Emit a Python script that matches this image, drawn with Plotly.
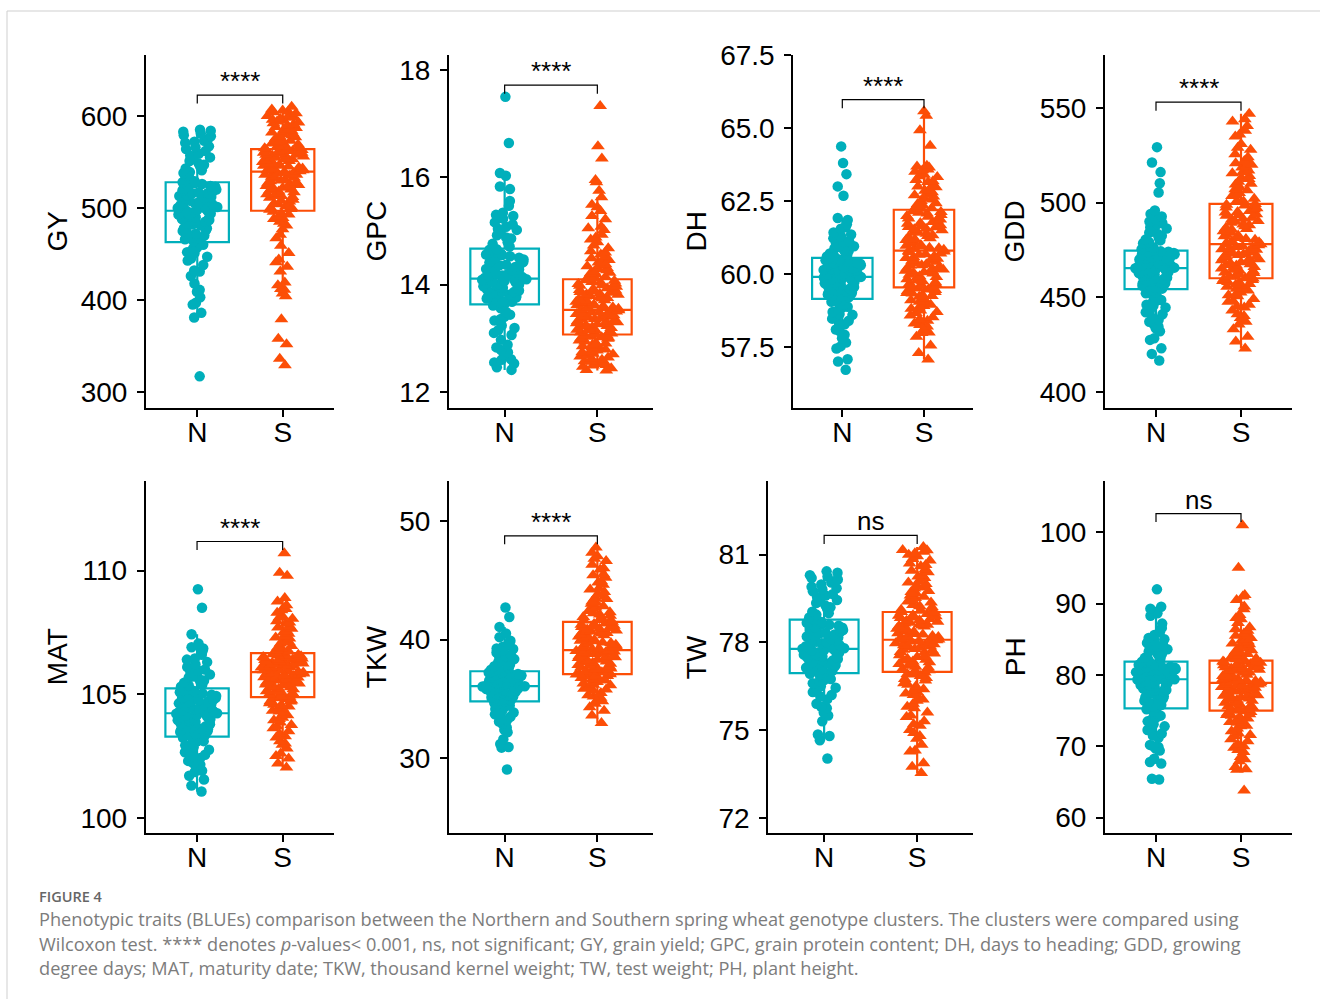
import plotly.graph_objects as go

# ---------------- data ----------------
TRAITS = ["GY", "GPC", "DH", "GDD", "MAT", "TKW", "TW", "PH"]
GROUPS = ["N", "S"]
SIG_LABELS = ["****", "****", "****", "****", "****", "****", "ns", "ns"]

GY_N = [317, 381, 386, 395, 397, 403, 409, 411, 418, 426, 431, 432, 438, 445, 447, 451, 456, 457, 460, 462,
        464, 467, 468, 472, 473, 476, 478, 478, 482, 483, 485, 487, 488, 490, 493, 493, 495, 496, 497, 497,
        498, 500, 501, 503, 505, 505, 508, 510, 511, 513, 516, 516, 518, 519, 521, 524, 524, 526, 527, 528,
        531, 535, 538, 539, 543, 547, 548, 553, 555, 557, 562, 564, 567, 571, 572, 575, 579, 581, 583, 585,
        470, 475, 481, 486, 491, 494, 499, 502, 504, 507, 509, 512, 514, 517, 520, 523, 529, 533, 541, 545,
        551, 559, 566, 573, 578, 584, 452, 443, 466, 489]
GY_S = [329, 336, 352, 358, 379, 404, 407, 411, 412, 416, 419, 431, 436, 441, 444, 451, 459, 467, 471, 477,
        481, 483, 488, 489, 493, 494, 496, 498, 500, 501, 504, 505, 508, 509, 512, 513, 516, 517, 519, 521,
        522, 524, 526, 527, 529, 530, 531, 533, 534, 535, 536, 537, 538, 539, 540, 541, 543, 543, 545, 546,
        547, 548, 550, 550, 552, 553, 554, 555, 557, 557, 558, 559, 560, 561, 562, 563, 564, 565, 567, 568,
        570, 571, 573, 575, 576, 577, 579, 580, 582, 584, 585, 586, 588, 589, 591, 592, 594, 596, 597, 599,
        600, 603, 605, 607, 610,
        502, 507, 511, 515, 518, 523, 528, 532, 536, 538, 541, 542, 544, 546, 549, 551, 553, 556, 558, 560,
        563, 566, 569, 572, 574, 578, 581, 583, 587, 590, 593, 595, 598, 601, 604, 606, 485, 491, 499, 514,
        520, 525, 547, 555, 562]

GPC_N = [12.41, 12.46, 12.53, 12.6, 12.61, 12.69, 12.74, 12.83, 12.88, 12.97, 13.06, 13.1, 13.19, 13.24, 13.33,
         13.36, 13.44, 13.49, 13.56, 13.61, 13.64, 13.67, 13.69, 13.73, 13.76, 13.77, 13.81, 13.84, 13.86, 13.87,
         13.91, 13.94, 13.96, 13.99, 14.01, 14.03, 14.04, 14.07, 14.09, 14.1, 14.13, 14.14, 14.17, 14.21, 14.22,
         14.27, 14.29, 14.32, 14.36, 14.37, 14.41, 14.42, 14.47, 14.49, 14.53, 14.56, 14.57, 14.61, 14.64, 14.66,
         14.71, 14.79, 14.86, 14.88, 14.97, 15.02, 15.04, 15.12, 15.16, 15.23, 15.28, 15.34, 15.47, 15.56, 15.78,
         15.83, 16.03, 16.08, 16.64, 17.5,
         13.68, 13.74, 13.79, 13.83, 13.89, 13.92, 13.97, 14.0, 14.06, 14.08, 14.12, 14.16, 14.19, 14.24, 14.28,
         14.33, 14.39, 14.44, 14.5, 14.55, 14.6, 14.65, 14.76, 14.92, 15.08, 15.3, 13.4, 13.15, 12.78, 12.55]
GPC_S = [12.4, 12.41, 12.44, 12.49, 12.5, 12.53, 12.56, 12.57, 12.62, 12.64, 12.66, 12.7, 12.71, 12.74, 12.77,
         12.79, 12.81, 12.85, 12.87, 12.9, 12.91, 12.94, 12.99, 13.01, 13.02, 13.05, 13.06, 13.08, 13.09, 13.12,
         13.14, 13.15, 13.16, 13.19, 13.21, 13.23, 13.24, 13.26, 13.28, 13.3, 13.31, 13.33, 13.35, 13.36, 13.38,
         13.4, 13.41, 13.43, 13.45, 13.46, 13.48, 13.49, 13.51, 13.52, 13.54, 13.57, 13.58, 13.61, 13.62, 13.65,
         13.67, 13.68, 13.71, 13.73, 13.75, 13.77, 13.79, 13.81, 13.83, 13.86, 13.87, 13.89, 13.92, 13.93, 13.96,
         13.99, 14.01, 14.04, 14.05, 14.08, 14.1, 14.12, 14.16, 14.19, 14.21, 14.24, 14.27, 14.31, 14.34, 14.38,
         14.41, 14.46, 14.49, 14.56, 14.62, 14.68, 14.79, 14.84, 14.93, 15.02, 15.08, 15.22, 15.37, 15.49, 15.63,
         15.75, 15.91, 15.95, 16.35, 16.58, 17.33,
         12.47, 12.6, 12.68, 12.83, 12.96, 13.03, 13.11, 13.18, 13.22, 13.27, 13.32, 13.37, 13.42, 13.47, 13.5,
         13.55, 13.6, 13.63, 13.66, 13.7, 13.74, 13.78, 13.82, 13.85, 13.9, 13.95, 13.98, 14.02, 14.07, 14.14,
         14.22, 14.29, 14.36, 14.44, 14.52, 14.6, 14.73, 14.88, 15.05, 15.28, 15.44, 12.52, 12.75, 12.88, 13.0]

DH_N = [56.72, 57.0, 57.08, 57.45, 57.52, 57.8, 57.92, 58.05, 58.1, 58.28, 58.4, 58.47, 58.55, 58.63, 58.7,
        58.78, 58.88, 58.95, 59.02, 59.1, 59.16, 59.2, 59.25, 59.3, 59.33, 59.38, 59.43, 59.46, 59.5, 59.55,
        59.58, 59.62, 59.66, 59.7, 59.73, 59.77, 59.8, 59.84, 59.87, 59.9, 59.92, 59.96, 59.99, 60.02, 60.05,
        60.08, 60.1, 60.14, 60.17, 60.2, 60.23, 60.27, 60.3, 60.33, 60.37, 60.4, 60.44, 60.47, 60.5, 60.54,
        60.58, 60.63, 60.7, 60.76, 60.82, 60.88, 60.95, 61.05, 61.12, 61.22, 61.3, 61.42, 61.55, 61.7, 61.85,
        61.92, 62.68, 63.0, 63.42, 63.8, 64.37,
        59.22, 59.35, 59.41, 59.52, 59.6, 59.68, 59.75, 59.82, 59.88, 59.95, 60.0, 60.06, 60.12, 60.19, 60.25,
        60.35, 60.42, 60.52, 60.6, 60.67, 60.8, 60.92, 61.1, 61.35, 58.85, 58.6, 58.3, 57.65, 59.05, 61.6]
DH_S = [57.07, 57.29, 57.55, 57.85, 57.98, 58.1, 58.2, 58.3, 58.4, 58.52, 58.58, 58.66, 58.75, 58.81, 58.9,
        58.95, 59.02, 59.1, 59.15, 59.22, 59.28, 59.33, 59.38, 59.42, 59.47, 59.5, 59.53, 59.57, 59.62, 59.66,
        59.72, 59.78, 59.82, 59.88, 59.92, 59.97, 60.02, 60.06, 60.11, 60.15, 60.2, 60.24, 60.29, 60.33, 60.38,
        60.42, 60.48, 60.52, 60.57, 60.61, 60.66, 60.7, 60.75, 60.79, 60.83, 60.88, 60.94, 60.99, 61.05, 61.1,
        61.16, 61.22, 61.27, 61.33, 61.38, 61.44, 61.5, 61.55, 61.61, 61.67, 61.72, 61.78, 61.84, 61.9, 61.96,
        62.02, 62.07, 62.12, 62.18, 62.23, 62.3, 62.36, 62.42, 62.5, 62.58, 62.65, 62.72, 62.8, 62.88, 62.97,
        63.05, 63.15, 63.22, 63.32, 63.4, 63.5, 63.58, 63.65, 63.71, 64.39, 64.92, 65.42, 65.57,
        58.45, 58.7, 59.05, 59.25, 59.45, 59.6, 59.75, 59.9, 60.04, 60.18, 60.3, 60.45, 60.55, 60.68, 60.77,
        60.86, 60.97, 61.08, 61.19, 61.3, 61.41, 61.53, 61.64, 61.75, 61.87, 61.99, 62.1, 62.25, 62.4, 62.55,
        62.7, 62.85, 63.0, 63.18, 63.35, 63.55, 63.68, 58.0, 58.25, 58.85, 59.35, 60.1, 60.9, 61.6, 62.15]

GDD_N = [416.5, 420, 423, 427.4, 428.3, 432, 434.5, 436, 437, 439, 441, 443, 444.5, 446, 447, 448.5, 450, 451,
         452.5, 453.5, 454.5, 455.3, 456, 457.2, 458, 458.8, 459.5, 460.3, 461, 461.8, 462.4, 463, 463.6, 464.1,
         464.5, 464.9, 465.1, 465.3, 465.6, 466.2, 466.8, 467.5, 468, 468.7, 469.2, 469.9, 470.4, 471, 471.6,
         472.2, 472.7, 473.3, 473.8, 474.2, 474.6, 475.3, 476.2, 477, 478, 479, 480, 481.5, 482.5, 484, 485.5,
         487, 488.5, 490, 491.5, 492.6, 494, 495.8, 505.3, 510.2, 516.1, 521.2, 529.3,
         455, 456.8, 458.3, 460, 461.4, 462.7, 464.3, 465.8, 466.5, 467.9, 468.4, 469.6, 470.7, 471.9, 473,
         474, 476.7, 478.5, 480.5, 483.5, 486.3, 489.2, 448, 445.5, 442, 438, 433.5, 452, 457.6, 463.3]
GDD_S = [422.8, 426.5, 429, 433, 435.5, 437, 439, 441, 443, 444.5, 446, 447.5, 449, 450.5, 451.5, 452.5, 453.5,
         454.5, 455.5, 456.5, 457, 457.8, 458.5, 459, 459.5, 459.8, 460, 460.8, 461.5, 462.3, 463, 463.8, 464.5,
         465.2, 466, 466.7, 467.4, 468, 468.8, 469.5, 470.2, 471, 471.6, 472.3, 473, 473.6, 474.3, 475, 475.6,
         476.2, 476.8, 477.4, 478, 478.8, 479.6, 480.4, 481.3, 482.2, 483, 484, 484.8, 485.7, 486.6, 487.5, 488.4,
         489.3, 490.2, 491, 492, 493, 493.8, 494.7, 495.6, 496.5, 497.4, 498.4, 499.3, 500.5, 502, 503.5, 505,
         506.5, 508, 509.5, 511, 512.5, 514, 515.5, 517, 518.5, 520, 520.8, 522, 524, 527.9, 531, 534.9, 538,
         542.8, 546.9,
         440, 445, 448, 451, 454, 456, 458, 461, 462.7, 464, 465.7, 467, 468.4, 470, 471.3, 472.7, 474, 475.3,
         476.5, 477.8, 479, 480.8, 482.6, 484.4, 486, 488, 489.8, 491.5, 493.4, 495, 497, 498.8, 501, 504, 507,
         510, 513, 516, 519, 521.5, 525.5, 529, 536, 540.5, 544]

MAT_N = [101.06, 101.3, 101.55, 101.7, 101.85, 102.0, 102.15, 102.3, 102.42, 102.55, 102.65, 102.75, 102.85,
         102.93, 103.0, 103.08, 103.14, 103.2, 103.24, 103.27, 103.32, 103.38, 103.44, 103.5, 103.55, 103.6,
         103.65, 103.7, 103.75, 103.8, 103.85, 103.9, 103.95, 104.0, 104.05, 104.1, 104.14, 104.18, 104.21,
         104.23, 104.27, 104.32, 104.37, 104.42, 104.48, 104.53, 104.58, 104.63, 104.68, 104.73, 104.78, 104.83,
         104.88, 104.93, 104.98, 105.03, 105.08, 105.13, 105.18, 105.23, 105.3, 105.38, 105.46, 105.55, 105.63,
         105.72, 105.8, 105.9, 106.0, 106.1, 106.2, 106.3, 106.45, 106.6, 106.75, 106.9, 107.05, 107.43, 108.5,
         109.25,
         103.35, 103.47, 103.58, 103.68, 103.78, 103.88, 103.98, 104.08, 104.16, 104.25, 104.35, 104.45, 104.55,
         104.65, 104.75, 104.86, 104.96, 105.06, 105.16, 105.35, 105.5, 105.68, 105.95, 106.4, 102.7, 102.5,
         102.2, 101.9, 103.1, 106.85]
MAT_S = [102.03, 102.2, 102.4, 102.6, 102.8, 102.95, 103.1, 103.25, 103.4, 103.5, 103.62, 103.75, 103.85,
         103.95, 104.05, 104.15, 104.25, 104.33, 104.41, 104.5, 104.57, 104.63, 104.7, 104.75, 104.8, 104.84,
         104.87, 104.92, 104.97, 105.02, 105.07, 105.12, 105.17, 105.22, 105.26, 105.3, 105.35, 105.39, 105.43,
         105.47, 105.51, 105.55, 105.59, 105.62, 105.66, 105.69, 105.72, 105.75, 105.78, 105.81, 105.84, 105.86,
         105.88, 105.91, 105.94, 105.97, 106.0, 106.03, 106.06, 106.09, 106.12, 106.15, 106.18, 106.21, 106.24,
         106.27, 106.3, 106.33, 106.36, 106.39, 106.42, 106.45, 106.48, 106.51, 106.54, 106.57, 106.6, 106.64,
         106.7, 106.78, 106.86, 106.95, 107.05, 107.15, 107.25, 107.35, 107.45, 107.55, 107.65, 107.75, 107.85,
         107.95, 108.05, 108.15, 108.3, 108.45, 108.6, 108.75, 108.89, 109.79, 109.92, 110.71,
         102.5, 103.0, 103.3, 103.7, 104.0, 104.3, 104.55, 104.72, 104.9, 105.0, 105.1, 105.2, 105.28, 105.37,
         105.45, 105.53, 105.6, 105.68, 105.76, 105.83, 105.9, 105.96, 106.02, 106.08, 106.14, 106.2, 106.26,
         106.32, 106.38, 106.44, 106.5, 106.56, 106.62, 106.74, 106.9, 107.1, 107.3, 107.5, 107.7, 107.9,
         108.1, 108.4, 104.45, 105.65, 106.1]

TKW_N = [29.06, 30.9, 30.95, 31.2, 31.6, 32.2, 32.6, 32.9, 33.1, 33.3, 33.5, 33.7, 33.85, 34.0, 34.15, 34.3,
         34.45, 34.55, 34.65, 34.75, 34.85, 34.95, 35.05, 35.15, 35.25, 35.32, 35.4, 35.48, 35.55, 35.62, 35.7,
         35.77, 35.83, 35.88, 35.93, 35.97, 36.0, 36.03, 36.05, 36.07, 36.12, 36.18, 36.25, 36.32, 36.4, 36.47,
         36.55, 36.62, 36.7, 36.77, 36.85, 36.92, 37.0, 37.06, 37.12, 37.18, 37.22, 37.26, 37.3, 37.33, 37.45,
         37.6, 37.75, 37.9, 38.05, 38.2, 38.35, 38.5, 38.7, 38.9, 39.1, 39.25, 39.4, 39.55, 39.8, 40.2, 40.5,
         41.06, 41.9, 42.69,
         34.9, 35.1, 35.3, 35.45, 35.6, 35.75, 35.86, 35.95, 36.02, 36.1, 36.2, 36.3, 36.42, 36.52, 36.65, 36.8,
         36.95, 37.1, 37.25, 37.5, 37.8, 38.1, 38.6, 39.2, 34.6, 34.2, 33.8, 33.2, 32.4, 39.9]
TKW_S = [32.98, 33.6, 34.0, 34.3, 34.6, 34.9, 35.1, 35.3, 35.5, 35.7, 35.85, 36.0, 36.15, 36.3, 36.42, 36.55,
         36.65, 36.75, 36.85, 36.92, 36.98, 37.02, 37.05, 37.07, 37.15, 37.25, 37.35, 37.45, 37.55, 37.65, 37.75,
         37.85, 37.95, 38.05, 38.15, 38.25, 38.35, 38.45, 38.55, 38.62, 38.7, 38.78, 38.85, 38.92, 38.98, 39.03,
         39.08, 39.15, 39.25, 39.35, 39.45, 39.55, 39.65, 39.75, 39.85, 39.95, 40.05, 40.15, 40.25, 40.35, 40.45,
         40.55, 40.65, 40.75, 40.85, 40.95, 41.05, 41.15, 41.25, 41.35, 41.45, 41.6, 41.8, 42.0, 42.2, 42.4,
         42.6, 42.8, 43.0, 43.2, 43.4, 43.6, 43.8, 44.0, 44.3, 44.6, 44.9, 45.2, 45.5, 45.9, 46.3, 46.6, 47.0,
         47.3, 47.74,
         35.2, 35.8, 36.2, 36.6, 36.9, 37.1, 37.3, 37.5, 37.7, 37.9, 38.1, 38.3, 38.5, 38.66, 38.82, 38.96, 39.1,
         39.3, 39.5, 39.7, 39.9, 40.1, 40.3, 40.5, 40.7, 40.9, 41.1, 41.3, 41.5, 41.9, 42.3, 42.7, 43.1, 43.5,
         44.2, 44.8, 45.4, 46.0, 46.8, 34.8, 36.4, 37.8, 38.9, 40.6, 42.1]

TW_N = [74.03, 74.65, 74.8, 74.85, 75.3, 75.5, 75.6, 75.75, 75.9, 76.05, 76.2, 76.3, 76.4, 76.5, 76.6, 76.68,
        76.75, 76.82, 76.88, 76.93, 76.98, 77.03, 77.08, 77.13, 77.18, 77.23, 77.28, 77.33, 77.38, 77.43, 77.48,
        77.52, 77.56, 77.6, 77.64, 77.68, 77.71, 77.74, 77.76, 77.78, 77.82, 77.87, 77.92, 77.97, 78.02, 78.07,
        78.12, 78.17, 78.22, 78.27, 78.32, 78.37, 78.42, 78.47, 78.52, 78.57, 78.62, 78.67, 78.72, 78.77, 78.85,
        78.95, 79.05, 79.15, 79.25, 79.35, 79.45, 79.55, 79.65, 79.75, 79.82, 79.9, 79.98, 80.05, 80.1, 80.15,
        80.2, 80.3, 80.38, 80.43,
        77.0, 77.1, 77.2, 77.3, 77.4, 77.5, 77.58, 77.66, 77.73, 77.8, 77.9, 78.0, 78.1, 78.2, 78.3, 78.4, 78.5,
        78.6, 78.7, 78.8, 79.0, 79.2, 79.4, 79.6, 79.85, 80.25, 76.45, 76.15, 75.8, 76.7]
TW_S = [73.53, 73.75, 73.87, 74.27, 74.3, 74.5, 74.7, 74.9, 75.0, 75.15, 75.3, 75.45, 75.6, 75.75, 75.9, 76.0,
        76.1, 76.2, 76.3, 76.4, 76.5, 76.6, 76.7, 76.78, 76.85, 76.92, 76.97, 77.02, 77.08, 77.14, 77.2, 77.26,
        77.32, 77.38, 77.44, 77.5, 77.56, 77.62, 77.67, 77.72, 77.77, 77.82, 77.86, 77.9, 77.94, 77.97, 78.0,
        78.03, 78.05, 78.07, 78.09, 78.13, 78.18, 78.22, 78.27, 78.31, 78.36, 78.4, 78.45, 78.49, 78.54, 78.58,
        78.62, 78.67, 78.71, 78.76, 78.8, 78.85, 78.89, 78.93, 78.97, 79.01, 79.04, 79.12, 79.2, 79.28, 79.36,
        79.44, 79.52, 79.6, 79.68, 79.76, 79.84, 79.92, 80.0, 80.1, 80.2, 80.3, 80.4, 80.5, 80.6, 80.7, 80.8,
        80.95, 81.05, 81.1, 81.15, 81.16, 81.26,
        74.8, 75.5, 75.8, 76.05, 76.35, 76.55, 76.75, 76.9, 77.05, 77.17, 77.29, 77.41, 77.53, 77.65, 77.75,
        77.84, 77.92, 78.01, 78.1, 78.2, 78.29, 78.38, 78.47, 78.56, 78.65, 78.74, 78.83, 78.91, 78.99, 79.08,
        79.24, 79.4, 79.56, 79.72, 79.88, 80.05, 80.25, 80.45, 80.65, 80.85, 81.0, 75.2, 76.25, 77.35, 78.6]

PH_N = [65.35, 65.45, 67.6, 67.8, 68.27, 69.4, 69.7, 70.0, 70.2, 71.5, 71.8, 72.3, 72.8, 73.1, 73.5, 73.9,
        74.3, 74.6, 74.9, 75.2, 75.5, 75.8, 76.1, 76.4, 76.7, 77.0, 77.3, 77.5, 77.7, 77.9, 78.1, 78.3, 78.5,
        78.7, 78.85, 79.0, 79.1, 79.2, 79.3, 79.4, 79.55, 79.7, 79.85, 80.0, 80.1, 80.2, 80.3, 80.4, 80.5, 80.6,
        80.7, 80.8, 80.9, 81.0, 81.15, 81.3, 81.45, 81.6, 81.75, 81.87, 82.1, 82.4, 82.7, 83.0, 83.3, 83.6, 83.9,
        84.2, 84.5, 84.8, 85.2, 85.6, 86.0, 86.6, 87.2, 88.3, 88.65, 89.3, 89.57, 92.0,
        75.6, 76.2, 76.9, 77.4, 77.8, 78.2, 78.6, 78.9, 79.15, 79.35, 79.6, 79.8, 80.05, 80.25, 80.45, 80.65,
        80.85, 81.05, 81.25, 81.5, 81.8, 82.3, 82.9, 83.5, 84.0, 85.0, 74.0, 72.6, 71.2, 69.9]
PH_S = [63.8, 66.7, 66.8, 67.1, 67.9, 68.5, 69.2, 69.8, 70.3, 70.7, 71.0, 71.4, 71.8, 72.1, 72.5, 72.8, 73.1,
        73.4, 73.6, 73.9, 74.1, 74.3, 74.5, 74.65, 74.8, 74.9, 74.97, 75.1, 75.3, 75.5, 75.7, 75.9, 76.1, 76.3,
        76.5, 76.7, 76.85, 77.0, 77.15, 77.3, 77.45, 77.6, 77.75, 77.9, 78.0, 78.1, 78.2, 78.3, 78.4, 78.5, 78.6,
        78.7, 78.8, 79.0, 79.1, 79.25, 79.4, 79.55, 79.7, 79.85, 80.0, 80.15, 80.3, 80.45, 80.6, 80.75, 80.9,
        81.05, 81.2, 81.35, 81.5, 81.6, 81.7, 81.8, 81.9, 81.95, 82.0, 82.2, 82.45, 82.7, 82.95, 83.2, 83.45,
        83.7, 84.0, 84.3, 84.6, 84.9, 85.2, 85.5, 85.8, 86.2, 86.7, 87.3, 88.0, 88.4, 89.6, 90.5, 91.0, 91.2,
        95.04, 101.0,
        70.0, 71.6, 72.9, 73.7, 74.4, 75.2, 75.6, 76.0, 76.4, 76.8, 77.1, 77.4, 77.7, 78.05, 78.35, 78.65, 78.9,
        79.15, 79.45, 79.75, 80.05, 80.35, 80.65, 80.95, 81.25, 81.55, 81.85, 82.3, 82.8, 83.3, 83.8, 84.4, 85.0,
        85.6, 86.4, 87.8, 89.2, 68.2, 69.5, 73.3, 76.6, 79.3, 81.1, 83.0, 84.7]

N_VALUES = [GY_N, GPC_N, DH_N, GDD_N, MAT_N, TKW_N, TW_N, PH_N]
S_VALUES = [GY_S, GPC_S, DH_S, GDD_S, MAT_S, TKW_S, TW_S, PH_S]

# box statistics as drawn in the picture (whisker ends, quartiles, median)
N_LOWER = [381, 12.41, 57.45, 427.4, 101.06, 31.2, 74.65, 67.6]
N_Q1 = [463, 13.63, 59.15, 454.2, 103.28, 34.8, 76.95, 75.33]
N_MEDIAN = [497, 14.11, 59.9, 465.3, 104.23, 36.07, 77.78, 79.4]
N_Q3 = [528, 14.67, 60.55, 474.6, 105.24, 37.33, 78.78, 81.87]
N_UPPER = [585, 16.08, 61.92, 495.8, 107.43, 41.06, 80.43, 89.57]

S_LOWER = [404, 12.4, 57.07, 422.8, 102.03, 32.98, 73.53, 66.7]
S_Q1 = [497, 13.07, 59.54, 460, 104.88, 37.08, 76.99, 75.0]
S_MEDIAN = [539.5, 13.53, 60.8, 478, 105.89, 39.1, 78.09, 78.9]
S_Q3 = [564, 14.10, 62.2, 499.3, 106.66, 41.48, 79.04, 82.0]
S_UPPER = [610, 15.63, 65.57, 546.9, 108.89, 47.74, 81.26, 91.2]

Y_TICKS = [[300, 400, 500, 600], [12, 14, 16, 18], [57.5, 60.0, 62.5, 65.0, 67.5], [400, 450, 500, 550],
           [100, 105, 110], [30, 40, 50], [72, 75, 78, 81], [60, 70, 80, 90, 100]]
Y_TICKTEXT = [["300", "400", "500", "600"], ["12", "14", "16", "18"],
              ["57.5", "60.0", "62.5", "65.0", "67.5"], ["400", "450", "500", "550"],
              ["100", "105", "110"], ["30", "40", "50"], ["72", "75", "78", "81"],
              ["60", "70", "80", "90", "100"]]

CAPTION_TITLE = "FIGURE 4"
CAPTION_LINES = [
    "Phenotypic traits (BLUEs) comparison between the Northern and Southern spring wheat genotype clusters. The clusters were compared using",
    "Wilcoxon test. **** denotes <i>p</i>-values< 0.001, ns, not significant; GY, grain yield; GPC, grain protein content; DH, days to heading; GDD, growing",
    "degree days; MAT, maturity date; TKW, thousand kernel weight; TW, test weight; PH, plant height.",
]

# ---------------- layout (pixels) ----------------
W, H = 1320, 999
Y_RANGES = [[282.6, 666.3], [11.70, 18.28], [55.41, 67.5], [391.4, 578.0],
            [99.37, 113.63], [23.69, 53.34], [71.47, 83.52], [57.81, 107.19]]
PANEL_LEFT = [146, 449, 793.3, 1105, 145.7, 449, 768.3, 1105]
PANEL_RIGHT = [334, 653, 973, 1292, 334, 653, 973, 1292]
ROW_TOP = [55, 481]
ROW_BOTTOM = [408, 833.3]
TITLE_X = [57, 376, 696, 1014, 57, 376, 696, 1015]
X_RANGE = [0.4, 2.6]
COLORS = ["#00AFBB", "#FC4E07"]
SYMBOLS = ["circle", "triangle-up"]
SIZES = [10.5, 12]
FONT = "Liberation Sans, Arial, Helvetica, sans-serif"
CAPFONT = "Open Sans, sans-serif"


def px(x):
    return x / W


def py(y):
    return 1 - y / H


fig = go.Figure()
layout = {}
shapes = []
annotations = []

for i, trait in enumerate(TRAITS):
    r = i // 4
    k = i + 1
    xn = "x" if k == 1 else f"x{k}"
    yn = "y" if k == 1 else f"y{k}"
    xkey = "xaxis" if k == 1 else f"xaxis{k}"
    ykey = "yaxis" if k == 1 else f"yaxis{k}"

    stats = [
        (N_LOWER[i], N_Q1[i], N_MEDIAN[i], N_Q3[i], N_UPPER[i]),
        (S_LOWER[i], S_Q1[i], S_MEDIAN[i], S_Q3[i], S_UPPER[i]),
    ]
    values = [N_VALUES[i], S_VALUES[i]]

    for g in range(2):
        lo, q1, med, q3, hi = stats[g]
        fig.add_trace(go.Box(
            x=[g + 1], q1=[q1], median=[med], q3=[q3], lowerfence=[lo], upperfence=[hi],
            orientation="v", width=0.74, whiskerwidth=0, boxpoints=False,
            fillcolor="white", line=dict(color=COLORS[g], width=2.2),
            xaxis=xn, yaxis=yn, showlegend=False, hoverinfo="skip",
        ))
    for g in range(2):
        fig.add_trace(go.Box(
            y=values[g], x0=g + 1, orientation="v", width=0.5,
            boxpoints="all", jitter=1, pointpos=0, whiskerwidth=0,
            fillcolor="rgba(0,0,0,0)", line=dict(color="rgba(0,0,0,0)", width=0),
            marker=dict(symbol=SYMBOLS[g], size=SIZES[g], color=COLORS[g], line=dict(width=0)),
            xaxis=xn, yaxis=yn, showlegend=False, hoveron="points",
        ))

    layout[xkey] = dict(
        domain=[px(PANEL_LEFT[i]), px(PANEL_RIGHT[i])], anchor=yn, type="linear",
        range=X_RANGE, tickvals=[1, 2], ticktext=GROUPS, automargin=False,
        showline=True, linecolor="black", linewidth=2, mirror=False,
        ticks="outside", ticklen=7, tickwidth=2, tickcolor="black",
        showgrid=False, zeroline=False, ticklabelstandoff=-9,
        tickfont=dict(family=FONT, size=28, color="black"), fixedrange=True,
    )
    layout[ykey] = dict(
        domain=[py(ROW_BOTTOM[r]), py(ROW_TOP[r])], anchor=xn, automargin=False,
        range=Y_RANGES[i], tickvals=Y_TICKS[i], ticktext=Y_TICKTEXT[i],
        showline=True, linecolor="black", linewidth=2,
        ticks="outside", ticklen=7, tickwidth=2, tickcolor="black",
        showgrid=False, zeroline=False, ticklabelstandoff=4,
        tickfont=dict(family=FONT, size=28, color="black"), fixedrange=True,
    )

    # significance bracket, placed above the highest point
    span = Y_RANGES[i][1] - Y_RANGES[i][0]
    top = max(max(values[0]), max(values[1])) + 0.033 * span
    tip = top - 0.024 * span
    shapes.append(dict(
        type="path", xref=xn, yref=yn,
        path=f"M 1,{tip} L 1,{top} L 2,{top} L 2,{tip}",
        line=dict(color="black", width=1.2),
    ))
    annotations.append(dict(
        x=1.5, y=top, xref=xn, yref=yn, text=SIG_LABELS[i], showarrow=False,
        xanchor="center", yanchor="bottom", yshift=-3,
        font=dict(family=FONT, size=26, color="black"),
    ))
    annotations.append(dict(
        x=px(TITLE_X[i]), y=py((ROW_TOP[r] + ROW_BOTTOM[r]) / 2), xref="paper", yref="paper",
        text=trait, textangle=-90, showarrow=False, xanchor="center", yanchor="middle",
        font=dict(family=FONT, size=28, color="black"),
    ))

# caption
annotations.append(dict(
    x=px(37), y=py(896), xref="paper", yref="paper", text=CAPTION_TITLE, showarrow=False,
    xanchor="left", yanchor="middle",
    font=dict(family=CAPFONT, size=14.5, color="#666666", weight=600),
))
for j, line in enumerate(CAPTION_LINES):
    annotations.append(dict(
        x=px(37), y=py(919 + 24.5 * j), xref="paper", yref="paper", text=line, showarrow=False,
        xanchor="left", yanchor="middle", font=dict(family=CAPFONT, size=18.2, color="#7c7c7c"),
    ))

# outer frame
shapes.append(dict(type="rect", xref="paper", yref="paper",
                   x0=px(7), y0=py(1010), x1=px(1340), y1=py(11),
                   line=dict(color="#cfcfcf", width=1), fillcolor="rgba(0,0,0,0)", layer="below"))

fig.update_layout(
    width=W, height=H, margin=dict(l=0, r=0, t=0, b=0, autoexpand=False),
    paper_bgcolor="white", plot_bgcolor="white",
    shapes=shapes, annotations=annotations, showlegend=False, boxmode="overlay",
    **layout,
)

fig.write_html("out.html", config={"displayModeBar": False},
               post_script="document.body.style.margin='0';document.body.style.overflow='hidden';")
